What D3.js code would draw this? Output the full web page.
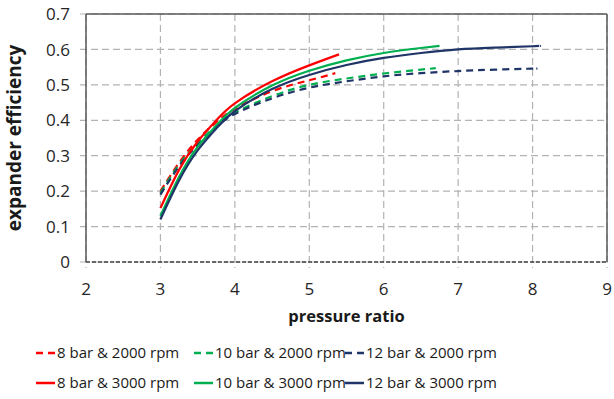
<!DOCTYPE html>
<html><head><meta charset="utf-8">
<script src="https://cdn.jsdelivr.net/npm/d3@7"></script>
<style>
html,body{margin:0;padding:0;background:#fff;}
svg{display:block;font-family:"Open Sans",sans-serif;}
</style></head>
<body><svg id="c" width="614" height="399"></svg>
<script>
const xTicks = [2,3,4,5,6,7,8,9];
const yTicks = [0,0.1,0.2,0.3,0.4,0.5,0.6,0.7];
const yTickLabels = ["0","0.1","0.2","0.3","0.4","0.5","0.6","0.7"];

const seriesNames = ["8 bar & 2000 rpm","10 bar & 2000 rpm","12 bar & 2000 rpm","8 bar & 3000 rpm","10 bar & 3000 rpm","12 bar & 3000 rpm"];
const seriesColors = ["#ff0000","#00b050","#1f3467","#ff0000","#00b050","#1f3467"];
const seriesDashed = [true,true,true,false,false,false];

const x8_2000 = [3,3.25,3.5,3.75,4,4.5,5,5.35];
const y8_2000 = [0.2,0.28,0.345,0.395,0.432,0.482,0.513,0.533];
const x10_2000 = [3,3.25,3.5,3.75,4,4.5,5,5.5,6,6.5,6.7];
const y10_2000 = [0.195,0.275,0.335,0.385,0.422,0.468,0.5,0.518,0.532,0.543,0.547];
const x12_2000 = [3,3.25,3.5,3.75,4,4.5,5,5.5,6,6.5,7,7.5,8,8.05];
const y12_2000 = [0.19,0.27,0.33,0.38,0.418,0.462,0.492,0.51,0.524,0.533,0.539,0.543,0.546,0.546];
const x8_3000 = [3,3.25,3.5,3.75,4,4.5,5,5.4];
const y8_3000 = [0.152,0.26,0.34,0.4,0.448,0.51,0.555,0.586];
const x10_3000 = [3,3.25,3.5,3.75,4,4.5,5,5.5,6,6.5,6.75];
const y10_3000 = [0.13,0.24,0.325,0.385,0.435,0.498,0.54,0.569,0.59,0.604,0.61];
const x12_3000 = [3,3.25,3.5,3.75,4,4.5,5,5.5,6,6.5,7,7.5,8,8.1];
const y12_3000 = [0.12,0.23,0.315,0.377,0.426,0.488,0.528,0.556,0.576,0.59,0.6,0.605,0.609,0.61];

const xs = [x8_2000,x10_2000,x12_2000,x8_3000,x10_3000,x12_3000];
const ys = [y8_2000,y10_2000,y12_2000,y8_3000,y10_3000,y12_3000];

const svg = d3.select("#c");
const L=86, R=607, T=14, B=262;
const x = d3.scaleLinear().domain([2,9]).range([L,R]);
const y = d3.scaleLinear().domain([0,0.7]).range([B,T]);

const grid = svg.append("g");
grid.selectAll("line.v").data(xTicks).enter().append("line")
  .attr("x1",d=>x(d)).attr("x2",d=>x(d)).attr("y1",T).attr("y2",B+6)
  .attr("stroke","#b3b3b3").attr("stroke-width",1.2).attr("stroke-dasharray","7,4");
grid.selectAll("line.h").data(yTicks).enter().append("line")
  .attr("x1",L-6).attr("x2",R).attr("y1",d=>y(d)).attr("y2",d=>y(d))
  .attr("stroke","#b3b3b3").attr("stroke-width",1.2).attr("stroke-dasharray","7,4");

svg.append("line").attr("x1",L).attr("x2",R).attr("y1",T).attr("y2",T).attr("stroke","#595959").attr("stroke-width",1.5);
svg.append("line").attr("x1",L).attr("x2",L).attr("y1",T).attr("y2",B).attr("stroke","#595959").attr("stroke-width",1.5);
svg.append("line").attr("x1",R).attr("x2",R).attr("y1",T).attr("y2",B).attr("stroke","#595959").attr("stroke-width",1.5);
svg.append("line").attr("x1",L).attr("x2",R).attr("y1",B).attr("y2",B).attr("stroke","#404040").attr("stroke-width",1.5).attr("stroke-dasharray","4,2");

svg.selectAll("text.yt").data(yTicks).enter().append("text")
  .attr("x",70).attr("y",d=>y(d)).attr("dy","0.36em").attr("text-anchor","end")
  .attr("font-size",17).attr("fill","#262626").text((d,i)=>yTickLabels[i]);
svg.selectAll("text.xt").data(xTicks).enter().append("text")
  .attr("x",d=>x(d)).attr("y",295).attr("text-anchor","middle")
  .attr("font-size",17).attr("fill","#262626").text(d=>d);

svg.append("text").attr("x",(L+R)/2).attr("y",322).attr("text-anchor","middle")
  .attr("font-size",16.5).attr("font-weight","bold").attr("fill","#1a1a1a").text("pressure ratio");
svg.append("text").attr("transform",`translate(21,${(T+B)/2}) rotate(-90)`).attr("text-anchor","middle")
  .attr("font-size",19).attr("font-weight","bold").attr("fill","#1a1a1a").text("expander efficiency");

const line = d3.line().curve(d3.curveNatural);
xs.forEach((xa,i)=>{
  const pts = xa.map((v,j)=>[x(v),y(ys[i][j])]);
  svg.append("path").attr("d",line(pts)).attr("fill","none")
    .attr("stroke",seriesColors[i]).attr("stroke-width",2.2)
    .attr("stroke-dasharray",seriesDashed[i]?"7,5":null);
});

const colX=[36,194,345];
const rowY=[353,383];
seriesNames.forEach((n,i)=>{
  const cx=colX[i%3], cy=rowY[Math.floor(i/3)];
  svg.append("line").attr("x1",cx).attr("x2",cx+19).attr("y1",cy).attr("y2",cy)
    .attr("stroke",seriesColors[i]).attr("stroke-width",2.5)
    .attr("stroke-dasharray",seriesDashed[i]?"7,5":null);
  svg.append("text").attr("x",cx+21).attr("y",cy).attr("dy","0.36em")
    .attr("font-size",15).attr("fill","#1a1a1a").text(n);
});
</script></body></html>
